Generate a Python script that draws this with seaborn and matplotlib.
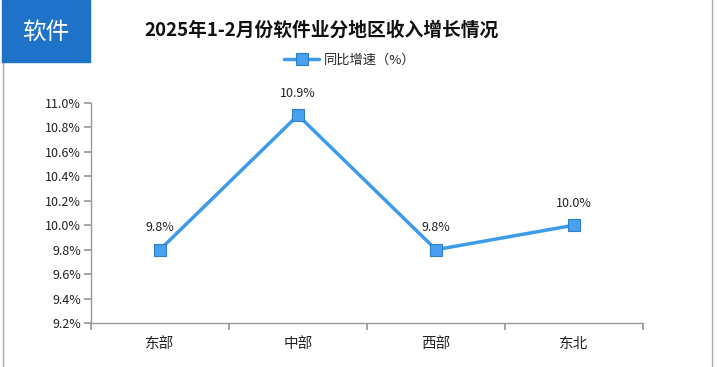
import matplotlib
matplotlib.use("Agg")
import matplotlib.pyplot as plt
import matplotlib.patches as mpatches
import seaborn as sns
import pandas as pd
import numpy as np

regions = ["东部", "中部", "西部", "东北"]
growth = [9.8, 10.9, 9.8, 10.0]
y_ticks = [9.2, 9.4, 9.6, 9.8, 10.0, 10.2, 10.4, 10.6, 10.8, 11.0]
series_name = "同比增速（%）"
title = "2025年1-2月份软件业分地区收入增长情况"
badge = "软件"

sns.set_theme(style="white")
plt.rcParams['font.family'] = ['Noto Sans CJK SC', 'DejaVu Sans']

df = pd.DataFrame({"地区": regions, "增速": growth})
df["pos"] = np.arange(len(regions))

fig = plt.figure(figsize=(7.17, 3.67), dpi=100)
ax = fig.add_axes([91 / 717, 44 / 367, 552 / 717, 220 / 367])

line_color = "#3d9be9"
sns.lineplot(data=df, x="pos", y="增速", ax=ax, color=line_color, linewidth=2.5,
             marker="s", markersize=8, markerfacecolor="#4aa0f0",
             markeredgecolor="#2f7fc8", markeredgewidth=0.8, label=series_name)

for xp, v in zip(df["pos"], df["增速"]):
    ax.annotate(f"{v:.1f}%", (xp, v), xytext=(0, 11), textcoords="offset points",
                ha="center", va="bottom", fontsize=9, color="#222222")

ax.set_xlim(-0.5, len(regions) - 0.5)
ax.set_ylim(9.2, 11.0)
ax.set_yticks(y_ticks)
ax.set_yticklabels([f"{t:.1f}%" for t in y_ticks], fontsize=9, color="#222222")
ax.set_xticks(np.arange(-0.5, len(regions), 1.0))
ax.set_xticklabels([])
ax.set_xticks(df["pos"], minor=True)
ax.set_xticklabels(regions, minor=True, fontsize=10.5, color="#222222")
ax.tick_params(axis="x", which="major", length=5, color="#999999", direction="out", bottom=True)
ax.tick_params(axis="x", which="minor", length=0, pad=10)
ax.tick_params(axis="y", length=5, color="#999999", direction="out", left=True, pad=2)
ax.set_xlabel("")
ax.set_ylabel("")
for s in ["top", "right"]:
    ax.spines[s].set_visible(False)
for s in ["left", "bottom"]:
    ax.spines[s].set_color("#999999")
    ax.spines[s].set_linewidth(1)

leg = ax.legend(loc="center", bbox_to_anchor=(350 / 717, 1 - 60 / 367),
                bbox_transform=fig.transFigure, frameon=False, fontsize=9.5,
                handlelength=2.6, handletextpad=0.4)

fig.text(322 / 717, 1 - 30 / 367, title, ha="center", va="center",
         fontsize=13.5, fontweight="bold", color="#111111")

# blue badge top-left
fig.patches.append(mpatches.Rectangle((2 / 717, 1 - 62 / 367), 88 / 717, 62 / 367,
                                      transform=fig.transFigure, color="#1e73c8", zorder=5))
fig.text(46 / 717, 1 - 32 / 367, badge, ha="center", va="center", fontsize=17,
         color="white", zorder=6)

# frame lines
fig.add_artist(plt.Line2D([3 / 717, 3 / 717], [0, 1 - 62 / 367], transform=fig.transFigure,
                          color="#aaaaaa", linewidth=1))
fig.add_artist(plt.Line2D([712 / 717, 712 / 717], [0, 1], transform=fig.transFigure,
                          color="#aaaaaa", linewidth=1))

fig.savefig("out.png", dpi=100)
